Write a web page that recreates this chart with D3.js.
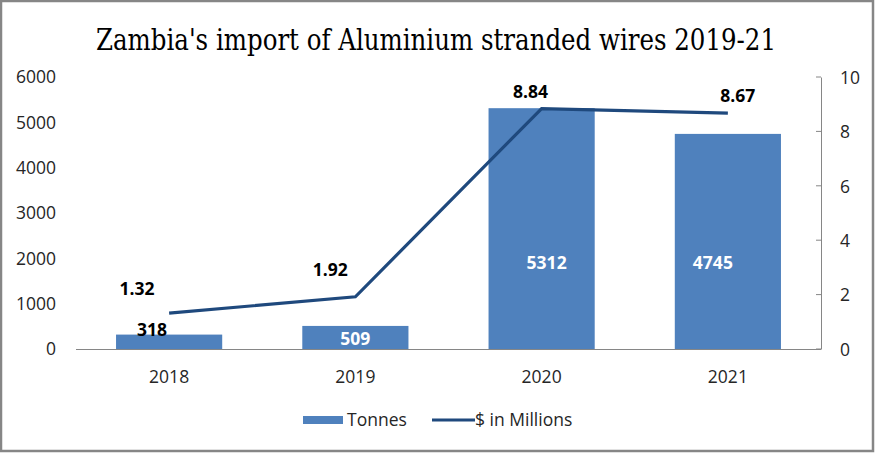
<!DOCTYPE html>
<html><head><meta charset="utf-8">
<script src="https://cdn.jsdelivr.net/npm/d3@7"></script>
<style>body{margin:0;background:#fff}svg{display:block}</style>
</head><body>
<script>
const years = ["2018","2019","2020","2021"];
const tonnes = [318, 509, 5312, 4745];
const millions = [1.32, 1.92, 8.84, 8.67];
const leftTicks = [0,1000,2000,3000,4000,5000,6000];
const rightTicks = [0,2,4,6,8,10];
const title = "Zambia's import of Aluminium stranded wires 2019-21";
const legendLabels = ["Tonnes", "$ in Millions"];

(function(){
const W = 875, H = 453;
const svg = d3.select("body").append("svg").attr("width", W).attr("height", H);
svg.append("rect").attr("x",1).attr("y",1).attr("width",W-3).attr("height",H-3)
  .attr("fill","#fff").attr("stroke","#868686").attr("stroke-width",2.5);

const pLeft = 76, pRight = 821, pTop = 77, pBottom = 349;
const x = d3.scaleBand().domain(years).range([pLeft, pRight]).paddingInner(0.43).paddingOuter(0.215);
const yL = d3.scaleLinear().domain([0,6000]).range([pBottom, pTop]);
const yR = d3.scaleLinear().domain([0,10]).range([pBottom, pTop]);
const font = "'Open Sans', sans-serif";
const fs = 17.5;

svg.append("text").attr("x", 436).attr("y", 50).attr("text-anchor","middle")
  .attr("font-family","'DejaVu Serif Condensed', 'Liberation Serif', serif").attr("font-size",29)
  .attr("textLength", 680).attr("lengthAdjust","spacingAndGlyphs")
  .attr("fill","#000").text(title);

// left axis labels
svg.append("g").selectAll("text").data(leftTicks).join("text")
  .attr("x", 56).attr("y", d => yL(d)).attr("dy","0.36em").attr("text-anchor","end")
  .attr("font-family",font).attr("font-size",fs).attr("fill","#262626").text(d => d);

// right axis
const ra = svg.append("g").attr("transform",`translate(${pRight},0)`)
  .call(d3.axisRight(yR).tickValues(rightTicks).tickSize(0).tickPadding(19));
ra.select(".domain").attr("stroke","#868686");
ra.selectAll("text").attr("font-family",font).attr("font-size",fs).attr("fill","#262626").attr("dy","0.36em");
svg.append("g").selectAll("line").data(rightTicks).join("line")
  .attr("x1", pRight-5).attr("x2", pRight).attr("y1", d=>yR(d)).attr("y2", d=>yR(d))
  .attr("stroke","#868686");

// bars
svg.append("g").selectAll("rect").data(tonnes).join("rect")
  .attr("x",(d,i)=>x(years[i])).attr("width",x.bandwidth())
  .attr("y",d=>yL(d)).attr("height",d=>pBottom-yL(d)).attr("fill","#4F81BD");

// baseline
svg.append("line").attr("x1",pLeft).attr("x2",pRight).attr("y1",pBottom+0.5).attr("y2",pBottom+0.5)
  .attr("stroke","#868686");

// x labels
svg.append("g").selectAll("text").data(years).join("text")
  .attr("x", d => x(d)+x.bandwidth()/2).attr("y", 377).attr("dy","0.36em").attr("text-anchor","middle")
  .attr("font-family",font).attr("font-size",fs).attr("fill","#262626").text(d=>d);

// line
const cx = i => x(years[i]) + x.bandwidth()/2;
svg.append("path").datum(millions)
  .attr("d", d3.line().x((d,i)=>cx(i)).y(d=>yR(d)))
  .attr("fill","none").attr("stroke","#1F497D").attr("stroke-width",3.2);

// bar labels
const barLabelPos = (d,i) => {
  if (i === 0) return {dx:-17, y: yL(d) - 5};
  if (i === 1) return {dx: 0, y: (yL(d)+pBottom)/2 + 1};
  return {dx: i===2 ? 5 : -15, y: yL(1900)};
};
svg.append("g").selectAll("text").data(tonnes).join("text")
  .attr("x",(d,i)=>cx(i)+barLabelPos(d,i).dx).attr("y",(d,i)=>barLabelPos(d,i).y)
  .attr("dy","0.36em").attr("text-anchor","middle")
  .attr("font-family",font).attr("font-size",fs).attr("font-weight","bold")
  .attr("fill",(d,i)=> i===0 ? "#000" : "#fff").text(d=>d);

// line labels
const lineLabelOff = [{dx:-32,dy:-24},{dx:-25,dy:-27},{dx:-11,dy:-17},{dx:10,dy:-17}];
svg.append("g").selectAll("text").data(millions).join("text")
  .attr("x",(d,i)=>cx(i)+lineLabelOff[i].dx).attr("y",(d,i)=>yR(d)+lineLabelOff[i].dy)
  .attr("dy","0.36em").attr("text-anchor","middle")
  .attr("font-family",font).attr("font-size",fs).attr("font-weight","bold")
  .attr("fill","#000").text(d=>d.toFixed(2));

// legend
const lg = svg.append("g");
lg.append("rect").attr("x",303).attr("y",416).attr("width",40).attr("height",8).attr("fill","#4F81BD");
lg.append("text").attr("x",347).attr("y",420).attr("dy","0.36em").attr("font-family",font)
  .attr("font-size",fs).attr("fill","#262626").text(legendLabels[0]);
lg.append("line").attr("x1",432).attr("x2",475).attr("y1",420).attr("y2",420)
  .attr("stroke","#1F497D").attr("stroke-width",3.2);
lg.append("text").attr("x",475).attr("y",420).attr("dy","0.36em").attr("font-family",font)
  .attr("font-size",fs).attr("fill","#262626").text(legendLabels[1]);
})();
</script>
</body></html>
